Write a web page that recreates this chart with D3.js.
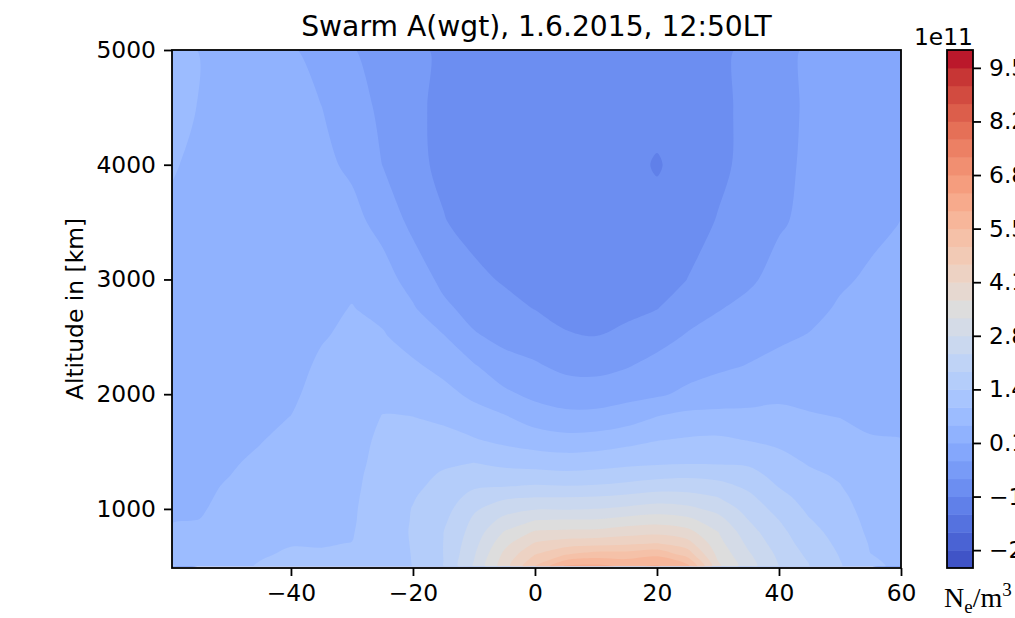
<!DOCTYPE html>
<html>
<head>
<meta charset="utf-8">
<script src="https://cdn.jsdelivr.net/npm/d3@7"></script>
<style>
  body { margin: 0; background: #fff; }
  svg { display: block; font-family: "DejaVu Sans", sans-serif; }
</style>
</head>
<body>
<svg id="chart" width="1015" height="618"></svg>
<script>
// Latitude of each grid column [deg]
const latitudes = [-59.5, -55, -50, -45, -40, -35, -30, -25, -20, -15, -10, -5, 0,
                   5, 10, 15, 20, 25, 30, 35, 40, 45, 50, 55, 60];
// Altitude of each grid row [km]
const altitudes = [500, 600, 700, 800, 900, 1000, 1100, 1200, 1300, 1400, 1600, 1800,
                   2000, 2250, 2500, 2750, 3000, 3500, 4000, 4500, 5000];
// Electron density [1e11 m^-3], one row per altitude, one value per latitude
const density = [
  [1.00,0.86,0.89,1.00,1.04,1.02,1.11,1.24,1.43,1.87,2.82,3.92,5.02,5.98,6.05,5.85,5.97,5.61,3.77,2.96,2.33,1.87,1.46,1.02,0.93],
  [0.84,0.80,0.82,0.95,1.01,1.00,1.04,1.24,1.44,1.88,2.73,3.79,4.58,5.03,5.25,5.25,5.40,4.86,3.56,2.84,2.23,1.77,1.40,0.98,0.91],
  [0.68,0.71,0.76,0.91,0.96,0.96,0.98,1.24,1.45,1.88,2.62,3.54,4.16,4.34,4.41,4.48,4.58,4.30,3.38,2.67,2.10,1.66,1.33,0.94,0.88],
  [0.57,0.62,0.71,0.88,0.91,0.94,0.95,1.23,1.46,1.87,2.51,3.25,3.72,3.77,3.79,3.92,3.99,3.82,3.23,2.50,2.00,1.56,1.26,0.89,0.84],
  [0.51,0.53,0.67,0.84,0.86,0.92,0.93,1.22,1.45,1.79,2.41,2.92,3.23,3.27,3.27,3.41,3.50,3.36,2.95,2.33,1.88,1.45,1.20,0.85,0.80],
  [0.49,0.49,0.63,0.80,0.83,0.89,0.92,1.21,1.44,1.70,2.26,2.58,2.74,2.74,2.78,2.87,2.98,2.89,2.64,2.15,1.72,1.34,1.13,0.81,0.76],
  [0.47,0.47,0.59,0.75,0.80,0.87,0.90,1.20,1.40,1.63,2.04,2.26,2.33,2.33,2.36,2.44,2.55,2.50,2.33,1.98,1.56,1.25,1.07,0.76,0.72],
  [0.44,0.45,0.56,0.71,0.76,0.84,0.88,1.18,1.34,1.55,1.81,1.85,1.91,1.88,1.91,1.99,2.10,2.11,2.02,1.78,1.40,1.14,0.99,0.72,0.68],
  [0.42,0.44,0.52,0.65,0.73,0.82,0.86,1.16,1.29,1.47,1.62,1.59,1.57,1.52,1.56,1.64,1.71,1.77,1.71,1.57,1.27,1.05,0.92,0.68,0.64],
  [0.40,0.42,0.49,0.59,0.69,0.80,0.84,1.12,1.22,1.36,1.43,1.31,1.25,1.21,1.25,1.32,1.37,1.39,1.38,1.36,1.13,0.94,0.83,0.63,0.60],
  [0.38,0.40,0.45,0.51,0.62,0.75,0.80,1.07,1.11,1.12,1.01,0.87,0.76,0.68,0.71,0.83,0.96,1.02,1.05,0.96,0.88,0.75,0.67,0.54,0.53],
  [0.37,0.39,0.41,0.46,0.53,0.69,0.76,0.99,0.98,0.89,0.71,0.57,0.32,0.20,0.21,0.32,0.54,0.66,0.65,0.63,0.65,0.56,0.52,0.48,0.47],
  [0.36,0.38,0.38,0.42,0.47,0.64,0.71,0.87,0.80,0.66,0.43,0.17,-0.04,-0.15,-0.16,-0.07,0.01,0.17,0.30,0.37,0.43,0.42,0.43,0.42,0.41],
  [0.36,0.37,0.35,0.38,0.41,0.58,0.66,0.72,0.59,0.39,0.11,-0.22,-0.33,-0.48,-0.51,-0.41,-0.24,-0.11,-0.01,0.09,0.19,0.26,0.33,0.35,0.36],
  [0.37,0.37,0.34,0.35,0.36,0.50,0.60,0.57,0.34,0.11,-0.32,-0.49,-0.59,-0.77,-0.82,-0.71,-0.54,-0.33,-0.21,-0.09,0.01,0.10,0.22,0.27,0.30],
  [0.38,0.38,0.34,0.34,0.33,0.43,0.54,0.41,0.12,-0.28,-0.54,-0.69,-0.84,-0.99,-1.00,-0.94,-0.84,-0.58,-0.40,-0.27,-0.12,-0.04,0.12,0.20,0.24],
  [0.40,0.39,0.34,0.32,0.30,0.34,0.44,0.26,-0.10,-0.49,-0.72,-0.87,-0.98,-1.07,-1.10,-1.05,-1.03,-0.82,-0.53,-0.44,-0.24,-0.13,0.02,0.13,0.19],
  [0.46,0.41,0.35,0.31,0.26,0.25,0.21,-0.07,-0.49,-0.80,-0.98,-1.07,-1.10,-1.14,-1.16,-1.14,-1.14,-1.00,-0.80,-0.61,-0.42,-0.28,-0.16,-0.02,0.08],
  [0.55,0.46,0.37,0.30,0.21,0.17,0.00,-0.38,-0.71,-0.92,-1.05,-1.10,-1.12,-1.15,-1.16,-1.15,-1.31,-1.12,-0.92,-0.71,-0.49,-0.29,-0.17,-0.07,0.03],
  [0.64,0.51,0.38,0.28,0.17,0.08,-0.17,-0.47,-0.75,-0.91,-1.03,-1.07,-1.10,-1.13,-1.14,-1.14,-1.14,-1.07,-0.92,-0.73,-0.51,-0.31,-0.20,-0.10,-0.02],
  [0.66,0.51,0.39,0.26,0.12,-0.09,-0.35,-0.55,-0.75,-0.89,-1.00,-1.05,-1.07,-1.10,-1.12,-1.14,-1.12,-1.05,-0.92,-0.74,-0.52,-0.31,-0.20,-0.11,-0.04]
];
// Contour levels [1e11 m^-3]
const levels = [-3.075, -2.625, -2.175, -1.725, -1.275, -0.825, -0.375, 0.075, 0.525, 0.975,
                1.425, 1.875, 2.325, 2.775, 3.225, 3.675, 4.125, 4.575, 5.025, 5.475,
                5.925, 6.375, 6.825, 7.275, 7.725, 8.175, 8.625, 9.075, 9.525, 9.975];
// Axis ticks
const xTicks = [-40, -20, 0, 20, 40, 60];
const yTicks = [1000, 2000, 3000, 4000, 5000];
const altitudeAxis = [485, 5000];
const colorbarTicks = [-2.625, -1.275, 0.075, 1.425, 2.775, 4.125, 5.475, 6.825, 8.175, 9.525];

const titleText = "Swarm A(wgt), 1.6.2015, 12:50LT";
const yLabelText = "Altitude in [km]";
const xLabelText = "Latitude [deg]";

// coolwarm colour map anchors (r, g, b in 0..1)
const coolwarmAnchors = [
  [0.2298057,0.298717966,0.753683153],[0.26623388,0.353094838,0.801466763],
  [0.30386891,0.406535296,0.84495867],[0.342804478,0.458757618,0.883725899],
  [0.38301334,0.50941904,0.917387822],[0.424369608,0.558148092,0.945619588],
  [0.46666708,0.604562568,0.968154911],[0.509635204,0.648280772,0.98478814],
  [0.552953156,0.688929332,0.995375608],[0.596262162,0.726149107,0.999836203],
  [0.639176211,0.759599947,0.998151185],[0.681291281,0.788964712,0.990363227],
  [0.722193294,0.813952739,0.976574709],[0.761464949,0.834302879,0.956945269],
  [0.798691636,0.849786142,0.931688648],[0.833466556,0.860207984,0.901068838],
  [0.865395197,0.86541021,0.865395561],[0.897787179,0.848937047,0.820880546],
  [0.924127593,0.827384882,0.774508472],[0.944468518,0.800927443,0.726736146],
  [0.958852946,0.769767752,0.678007945],[0.96732803,0.734132809,0.628751763],
  [0.969954137,0.694266682,0.579375448],[0.966811177,0.650421156,0.530263762],
  [0.958003065,0.602842431,0.481775914],[0.943660866,0.551750968,0.434243684],
  [0.923944917,0.49730856,0.387970225],[0.89904617,0.439559467,0.343229596],
  [0.869186849,0.378313092,0.300267182],[0.834620542,0.312874446,0.259301199],
  [0.795631745,0.24128379,0.220525627],[0.752534934,0.157246067,0.184115123],
  [0.705673158,0.01555616,0.150232812]
];
function coolwarm(t) {
  const s = Math.max(0, Math.min(1, t)) * (coolwarmAnchors.length - 1);
  const i = Math.min(coolwarmAnchors.length - 2, Math.floor(s));
  const f = s - i, a = coolwarmAnchors[i], b = coolwarmAnchors[i + 1];
  const c = a.map((v, k) => Math.round(255 * (v + (b[k] - v) * f)));
  return `rgb(${c[0]},${c[1]},${c[2]})`;
}
const nBands = levels.length - 1;
const bandColor = i => coolwarm((i + 0.5) / nBands);

// Layout
const plot = { left: 172, right: 901, top: 50, bottom: 568 };
const cbar = { left: 947, right: 973, top: 50, bottom: 568 };
const fontSize = 23.4;
const lineW = 1.8;

const svg = d3.select("#chart");

const x = d3.scaleLinear()
  .domain([latitudes[0], latitudes[latitudes.length - 1]])
  .range([plot.left, plot.right]);
const y = d3.scaleLinear().domain(altitudeAxis).range([plot.bottom, plot.top]);

// Filled contours
const nx = latitudes.length, ny = altitudes.length;
const grid = [];
density.forEach(row => row.forEach(v => grid.push(v)));
const contourSets = d3.contours().size([nx, ny]).thresholds(levels.slice(0, -1))(grid);

// grid-space coordinate -> data value along one axis
function gridValue(arr, c) {
  const t = Math.max(0, Math.min(arr.length - 1, c - 0.5));
  const i = Math.min(arr.length - 2, Math.floor(t));
  return arr[i] + (arr[i + 1] - arr[i]) * (t - i);
}
const ringLine = d3.line().curve(d3.curveCatmullRomClosed.alpha(0.5));
function contourPath(geom) {
  let d = "";
  geom.coordinates.forEach(poly => poly.forEach(ring => {
    const pts = ring.slice(0, -1).map(([cx, cy]) =>
      [x(gridValue(latitudes, cx)), y(gridValue(altitudes, cy))]);
    const clean = [];
    pts.forEach(p => {
      const q = clean[clean.length - 1];
      if (!q || Math.hypot(p[0] - q[0], p[1] - q[1]) > 0.05) clean.push(p);
    });
    if (clean.length > 2) d += ringLine(clean);
  }));
  return d;
}

const defs = svg.append("defs");
defs.append("clipPath").attr("id", "dataClip")
  .append("rect")
  .attr("x", x(latitudes[0])).attr("y", y(altitudes[altitudes.length - 1]))
  .attr("width", x(latitudes[nx - 1]) - x(latitudes[0]))
  .attr("height", y(altitudes[0]) - y(altitudes[altitudes.length - 1]));

svg.append("g").attr("clip-path", "url(#dataClip)")
  .selectAll("path")
  .data(contourSets)
  .join("path")
  .attr("d", contourPath)
  .attr("fill", (d, i) => bandColor(i))
  .attr("fill-rule", "evenodd");

// Axes
function styleAxis(g) {
  g.attr("font-family", "DejaVu Sans").attr("font-size", fontSize);
  g.select(".domain").remove();
  g.selectAll(".tick line").attr("stroke", "#000").attr("stroke-width", lineW);
  g.selectAll(".tick text").attr("fill", "#000");
}
svg.append("g")
  .attr("transform", `translate(0,${plot.bottom})`)
  .call(d3.axisBottom(x).tickValues(xTicks).tickSize(8).tickPadding(8).tickFormat(d3.format("d")))
  .call(styleAxis);
svg.append("g")
  .attr("transform", `translate(${plot.left},0)`)
  .call(d3.axisLeft(y).tickValues(yTicks).tickSize(8).tickPadding(8).tickFormat(d3.format("d")))
  .call(styleAxis);

svg.append("rect")
  .attr("x", plot.left).attr("y", plot.top)
  .attr("width", plot.right - plot.left).attr("height", plot.bottom - plot.top)
  .attr("fill", "none").attr("stroke", "#000").attr("stroke-width", lineW);

// Titles and labels
svg.append("text")
  .attr("x", (plot.left + plot.right) / 2).attr("y", 36)
  .attr("text-anchor", "middle").attr("font-size", 28.2).attr("fill", "#000")
  .text(titleText);
svg.append("text")
  .attr("transform", `translate(83,${(plot.top + plot.bottom) / 2}) rotate(-90)`)
  .attr("text-anchor", "middle").attr("font-size", fontSize).attr("fill", "#000")
  .text(yLabelText);
svg.append("text")
  .attr("x", (plot.left + plot.right) / 2).attr("y", 636)
  .attr("text-anchor", "middle").attr("font-size", fontSize).attr("fill", "#000")
  .attr("fill-opacity", 0.5)
  .text(xLabelText);

// Colorbar
const cb = d3.scaleLinear().domain([levels[0], levels[levels.length - 1]]).range([cbar.bottom, cbar.top]);
svg.append("g").selectAll("rect")
  .data(d3.range(nBands))
  .join("rect")
  .attr("x", cbar.left)
  .attr("width", cbar.right - cbar.left)
  .attr("y", i => cb(levels[i + 1]))
  .attr("height", i => cb(levels[i]) - cb(levels[i + 1]) + (i > 0 ? 0.5 : 0))
  .attr("fill", i => bandColor(i));
svg.append("rect")
  .attr("x", cbar.left).attr("y", cbar.top)
  .attr("width", cbar.right - cbar.left).attr("height", cbar.bottom - cbar.top)
  .attr("fill", "none").attr("stroke", "#000").attr("stroke-width", lineW);
svg.append("g")
  .attr("transform", `translate(${cbar.right},0)`)
  .call(d3.axisRight(cb).tickValues(colorbarTicks).tickSize(8).tickPadding(8).tickFormat(d3.format(".1f")))
  .call(styleAxis);
svg.append("text")
  .attr("x", cbar.right).attr("y", 45)
  .attr("text-anchor", "end").attr("font-size", fontSize).attr("fill", "#000")
  .text("1e11");

const unit = svg.append("text")
  .attr("x", 944).attr("y", 607)
  .attr("font-family", "Liberation Serif, DejaVu Serif, serif")
  .attr("font-size", 28).attr("fill", "#000");
unit.append("tspan").text("N");
unit.append("tspan").attr("dy", 6).attr("font-size", 19).text("e");
unit.append("tspan").attr("dy", -6).text("/m");
unit.append("tspan").attr("dy", -11).attr("font-size", 19).text("3");
</script>
</body>
</html>
